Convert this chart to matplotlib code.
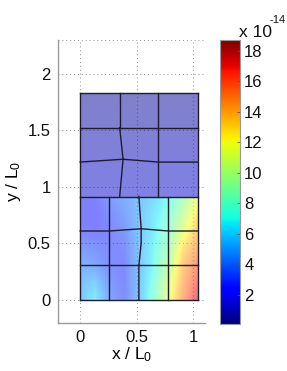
#!/usr/bin/env python3
"""Two meshed domains coloured by a field, with a jet colour bar."""
import numpy as np
import matplotlib
matplotlib.use("Agg")
import matplotlib.pyplot as plt
from matplotlib.patches import Rectangle

plt.rcParams["font.family"] = ["Liberation Sans", "DejaVu Sans"]
plt.rcParams["mathtext.fontset"] = "custom"
plt.rcParams["mathtext.rm"] = "Liberation Sans"
plt.rcParams["mathtext.default"] = "regular"

W, H = 287, 371
GREY = "#9a9a9a"

# field in the lower domain, bottom row first (units of 1e-14)
lower_x = [0, 1.04]
lower_y = [0, 0.915]
lower_vals = [
    [5.0, 6.5, 4.0, 3.0, 5.0, 8.0, 11.5, 15.0, 18.0],
    [4.8, 5.5, 3.5, 2.8, 5.0, 7.5, 11.0, 14.5, 17.0],
    [4.3, 4.0, 3.0, 2.8, 5.0, 7.0, 10.0, 14.0, 16.0],
    [3.5, 3.2, 2.8, 3.0, 5.0, 6.8, 9.0, 13.0, 15.0],
    [2.8, 2.5, 2.8, 3.3, 5.0, 6.5, 8.3, 11.5, 14.0],
    [2.2, 2.2, 3.0, 3.8, 5.0, 6.3, 7.5, 10.0, 13.0],
    [2.0, 2.5, 3.5, 4.2, 5.0, 5.8, 7.0, 9.0, 11.5],
]

# field in the upper domain
upper_x = [0, 1.04]
upper_y = [0.915, 1.83]
upper_vals = [
    [1.4, 1.4, 1.4, 1.4],
    [1.1, 1.1, 1.1, 1.1],
    [0.8, 0.8, 0.8, 0.8],
    [0.5, 0.5, 0.5, 0.5],
]

# mesh lines, each one is (xs, ys)
mesh_lines = [
    # lower domain, verticals
    ([0, 0], [0, 0.915]),
    ([0.26, 0.26], [0, 0.915]),
    ([0.52, 0.52, 0.54, 0.54, 0.52], [0, 0.305, 0.5, 0.63, 0.915]),
    ([0.78, 0.78], [0, 0.915]),
    ([1.04, 1.04], [0, 1.83]),
    # lower domain, horizontals
    ([0, 1.04], [0, 0]),
    ([0, 1.04], [0.305, 0.305]),
    ([0, 0.26, 0.4, 0.54, 0.78, 1.04], [0.61, 0.61, 0.62, 0.63, 0.61, 0.61]),
    ([0, 1.04], [0.915, 0.915]),
    # upper domain, verticals
    ([0, 0], [0.915, 1.83]),
    ([0.35, 0.38, 0.35], [0.915, 1.245, 1.525]),
    ([0.35, 0.35], [1.525, 1.83]),
    ([0.69, 0.69], [0.915, 1.83]),
    # upper domain, horizontals
    ([0, 0.38, 0.69, 1.04], [1.22, 1.245, 1.22, 1.22]),
    ([0, 1.04], [1.525, 1.525]),
    ([0, 1.04], [1.83, 1.83]),
]

xticks = [0, 0.5, 1]
yticks = [0, 0.5, 1, 1.5, 2]
cticks = [2, 4, 6, 8, 10, 12, 14, 16, 18]
vmin, vmax = 0.1, 18.7


def px_axes(fig, left, top, right, bottom):
    """Axes from pixel edges measured from the top left of the picture."""
    return fig.add_axes([left / W, 1 - bottom / H, (right - left) / W, (bottom - top) / H])


def draw_field(ax, xs, ys, vals):
    """Smooth half transparent patch; nodes sit at the rectangle's edges."""
    vals = np.array(vals)
    ny, nx = vals.shape
    dx = (xs[1] - xs[0]) / (nx - 1)
    dy = (ys[1] - ys[0]) / (ny - 1)
    im = ax.imshow(vals, cmap="jet", vmin=vmin, vmax=vmax, origin="lower", aspect="auto",
                   interpolation="bilinear", alpha=0.5, zorder=2,
                   extent=[xs[0] - dx / 2, xs[1] + dx / 2, ys[0] - dy / 2, ys[1] + dy / 2])
    clip = Rectangle((xs[0], ys[0]), xs[1] - xs[0], ys[1] - ys[0], transform=ax.transData)
    im.set_clip_path(clip)


fig = plt.figure(figsize=(W / 100, H / 100), dpi=100)
ax = px_axes(fig, 57.5, 40, 205, 323)

ax.grid(True, color="#909090", linestyle=(0, (1, 3)), linewidth=0.7)
ax.set_axisbelow(True)

draw_field(ax, lower_x, lower_y, lower_vals)
draw_field(ax, upper_x, upper_y, upper_vals)
ax.set_xlim(-0.2, 1.105)
ax.set_ylim(-0.204, 2.3)

for xs, ys in mesh_lines:
    ax.plot(xs, ys, color="#1c1c2c", linewidth=1.0, zorder=3)

ax.set_xticks(xticks, ["0", "0.5", "1"])
ax.set_yticks(yticks, ["0", "0.5", "1", "1.5", "2"])
ax.tick_params(length=0, labelsize=12, pad=5, labelcolor="#111111")
for side in ("top", "right"):
    ax.spines[side].set_visible(False)
for side in ("left", "bottom"):
    ax.spines[side].set_color(GREY)
    ax.spines[side].set_linewidth(1.0)
ax.set_xlabel("x / L$_0$", fontsize=12.5, labelpad=0)
ax.set_ylabel("y / L$_0$", fontsize=12.5, labelpad=3)

# dotted top edge of the box
ax.axhline(2.3, color="#909090", linestyle=(0, (1, 3)), linewidth=0.7, clip_on=False)

cax = px_axes(fig, 220, 40, 240, 324)
grad = np.linspace(vmin, vmax, 256).reshape(-1, 1)
cax.imshow(grad, cmap="jet", vmin=vmin, vmax=vmax, aspect="auto", origin="lower",
           extent=[0, 1, vmin, vmax])
cax.set_xticks([])
cax.set_yticks(cticks)
cax.yaxis.tick_right()
cax.tick_params(axis="y", direction="in", length=2, width=0.6, color="#555555",
                labelsize=12, pad=3, labelcolor="#111111")
for sp in cax.spines.values():
    sp.set_color(GREY)
    sp.set_linewidth(0.8)

fig.text(239 / W, 1 - 37 / H, "x 10", fontsize=12.5, color="#111111", va="baseline")
fig.text(270 / W, 1 - 23 / H, "-14", fontsize=8, color="#111111", va="baseline")

fig.savefig("out.png", dpi=100)
